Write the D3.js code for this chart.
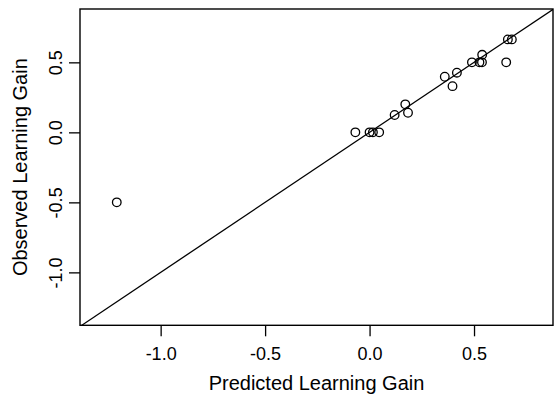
<!DOCTYPE html>
<html>
<head>
<meta charset="utf-8">
<script src="https://cdn.jsdelivr.net/npm/d3@7"></script>
<style>
  body { margin: 0; background: #fff; }
  svg { display: block; font-family: "Liberation Sans", Arial, sans-serif; }
</style>
</head>
<body>
<div id="chart"></div>
<script>
// values
const predicted = [-1.21, -0.068, 0.0, 0.016, 0.046, 0.12, 0.171, 0.184, 0.36, 0.397, 0.418, 0.49, 0.526, 0.538, 0.539, 0.654, 0.662, 0.681];
const observed  = [-0.5,   0.0,   0.0, 0.0,   0.0,   0.124, 0.2,  0.14,  0.397, 0.33, 0.426, 0.5,  0.5,   0.5,   0.554, 0.5,   0.664, 0.664];
const xTicks = [-1.0, -0.5, 0.0, 0.5];
const yTicks = [-1.0, -0.5, 0.0, 0.5];

const w = 554, h = 394;
const boxL = 80, boxR = 553, boxT = 9, boxB = 325.3;

const svg = d3.select("#chart").append("svg")
  .attr("width", w)
  .attr("height", h);

const xScale = d3.scaleLinear().domain([-1.386, 0.878]).range([boxL, boxR]);
const yScale = d3.scaleLinear().domain([-1.378, 0.881]).range([boxB, boxT]);

svg.append("clipPath").attr("id", "box")
  .append("rect")
  .attr("x", boxL).attr("y", boxT)
  .attr("width", boxR - boxL).attr("height", boxB - boxT);

// y = x reference line
svg.append("line")
  .attr("clip-path", "url(#box)")
  .attr("x1", xScale(-1.5)).attr("y1", yScale(-1.5))
  .attr("x2", xScale(1)).attr("y2", yScale(1))
  .attr("stroke", "#000")
  .attr("stroke-width", 1.3);

svg.selectAll("circle")
  .data(predicted)
  .enter()
  .append("circle")
  .attr("cx", d => xScale(d))
  .attr("cy", (d, i) => yScale(observed[i]))
  .attr("r", 4.3)
  .attr("fill", "none")
  .attr("stroke", "#000")
  .attr("stroke-width", 1.3);

// box
svg.append("rect")
  .attr("x", boxL).attr("y", boxT)
  .attr("width", boxR - boxL).attr("height", boxB - boxT)
  .attr("fill", "none")
  .attr("stroke", "#000")
  .attr("stroke-width", 1.4);

const fmt = d => d3.format(".1f")(d).replace("−", "-");

const xAxis = d3.axisBottom(xScale)
  .tickValues(xTicks)
  .tickSize(11)
  .tickSizeOuter(0)
  .tickPadding(11);

const gx = svg.append("g")
  .attr("transform", "translate(0," + boxB + ")")
  .call(xAxis);
gx.select(".domain").remove();
gx.selectAll("line").attr("stroke-width", 1.3);
gx.selectAll("text").attr("font-size", 18).attr("fill", "#000")
  .attr("font-family", "Liberation Sans, Arial, sans-serif")
  .text(fmt);

const yAxis = d3.axisLeft(yScale)
  .tickValues(yTicks)
  .tickSize(11)
  .tickSizeOuter(0);

const gy = svg.append("g")
  .attr("transform", "translate(" + boxL + ",0)")
  .call(yAxis);
gy.select(".domain").remove();
gy.selectAll("line").attr("stroke-width", 1.3);
gy.selectAll("text").remove();
gy.selectAll(".tick").append("text")
  .attr("transform", "translate(-18,0) rotate(-90)")
  .attr("text-anchor", "middle")
  .attr("font-size", 18)
  .attr("fill", "#000")
  .attr("font-family", "Liberation Sans, Arial, sans-serif")
  .text(fmt);

svg.append("text")
  .attr("x", (boxL + boxR) / 2)
  .attr("y", 390)
  .attr("text-anchor", "middle")
  .attr("font-size", 20)
  .text("Predicted Learning Gain");

svg.append("text")
  .attr("transform", "translate(27," + (boxT + boxB) / 2 + ") rotate(-90)")
  .attr("text-anchor", "middle")
  .attr("font-size", 20)
  .text("Observed Learning Gain");
</script>
</body>
</html>
